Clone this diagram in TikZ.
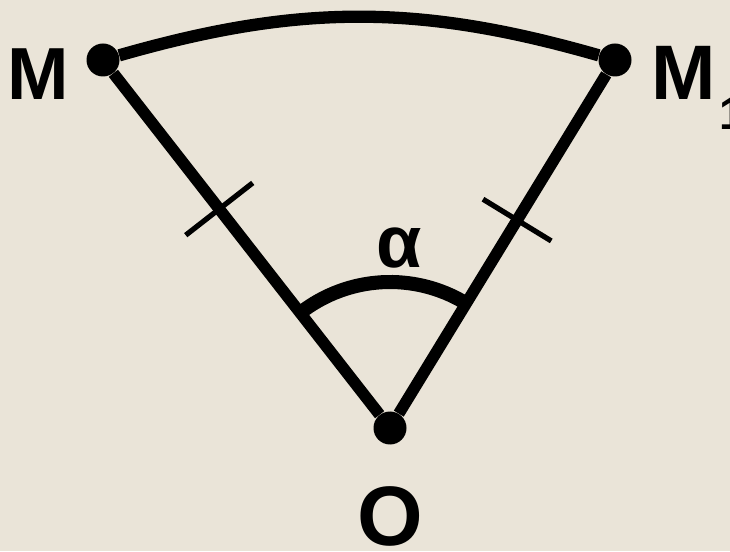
\documentclass[tikz,border=0pt]{standalone}
\usepackage{fontspec}
\setmainfont{Liberation Sans}
\usetikzlibrary{calc,angles}
\definecolor{paper}{RGB}{234,228,216}

\begin{document}
\begin{tikzpicture}[
        every node/.style={inner sep=0pt, font=\bfseries\fontsize{42}{50}\selectfont},
        dot/.style={circle, fill=black, minimum size=0.66cm},
        side/.style={line width=6.6pt},
        tick/.style={line width=3pt}
    ]
        \useasboundingbox (0,0) rectangle (14.6,11.02);
        \clip (0,0) rectangle (14.6,11.02);
        \fill[paper] (0,0) rectangle (14.6,11.02);

        % the three points with their names
        \node[dot, label={[anchor=base east, label distance=0.33cm, yshift=-0.8cm]left:M}] (M) at (2.06, 9.82) {};
        \node[dot, label={[anchor=base west, label distance=0.38cm, yshift=-0.8cm, font=\bfseries\fontsize{44}{50}\selectfont]right:{M\hspace{2pt}\raisebox{-17pt}{\fontsize{26}{26}\selectfont 1}}}] (M1) at (12.30, 9.82) {};
        \node[dot, label={[anchor=north, label distance=0.82cm, font=\bfseries\fontsize{48}{56}\selectfont]below:O}] (O) at (7.80, 2.46) {};

        % the two radii and the arc MM1
        \draw[side] (M) -- (O) -- (M1);
        \draw[line width=7pt] (M) to[bend left=16] (M1);

        % equal marks on the radii
        \coordinate (tL) at ($(M)!0.405!(O)$);
        \coordinate (tR) at ($(M1)!0.435!(O)$);
        \draw[tick] ($(tL)!0.85cm!90:(O)$) -- ($(tL)!0.85cm!-90:(O)$);
        \draw[tick] ($(tR)!0.8cm!90:(O)$) -- ($(tR)!0.8cm!-90:(O)$);

        % angle alpha
        \pic[draw, line width=8pt, angle radius=2.92cm] {angle=M1--O--M};
        \node (alpha) at (7.98, 6.06) {α};
    \end{tikzpicture}
\end{document}
